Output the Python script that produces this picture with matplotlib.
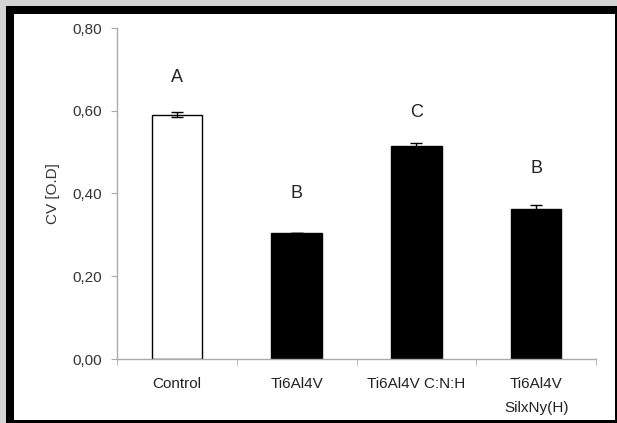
import numpy as np
import matplotlib.pyplot as plt
from matplotlib.patches import Rectangle

categories = ['Control', 'Ti6Al4V', 'Ti6Al4V C:N:H', 'Ti6Al4V\nSilxNy(H)']
means = [0.590, 0.305, 0.515, 0.362]
errors = [0.006, 0.0, 0.007, 0.011]
letters = ['A', 'B', 'C', 'B']
letter_y = [0.68, 0.40, 0.595, 0.46]
yticks = [0.0, 0.2, 0.4, 0.6, 0.8]
ytick_labels = ['0,00', '0,20', '0,40', '0,60', '0,80']

plt.rcParams['font.family'] = ['Liberation Sans', 'DejaVu Sans']
W, H = 617, 423
fig = plt.figure(figsize=(W / 100, H / 100), dpi=100)
fig.patch.set_facecolor('#d4d4d4')

# frame: thick black on left/top, thin on right/bottom
fig.patches.append(Rectangle((6 / W, 0), 1 - 6 / W, 1 - 6 / H, transform=fig.transFigure,
                             facecolor='black', edgecolor='none', zorder=-10))
fig.patches.append(Rectangle((14 / W, 3 / H), (615 - 14) / W, (420 - 14) / H,
                             transform=fig.transFigure, facecolor='white',
                             edgecolor='none', zorder=-9))

ax = fig.add_axes([117 / W, 1 - 359 / H, (596 - 117) / W, (359 - 28) / H])
ax.set_facecolor('none')

x = np.arange(len(categories))
colors = ['white', 'black', 'black', 'black']
ax.bar(x, means, width=0.42, color=colors, edgecolor='black', linewidth=1.0, zorder=2)
ax.errorbar(x, means, yerr=errors, fmt='none', ecolor='black', elinewidth=1.0,
            capsize=4, capthick=1.0, zorder=3)

for xi, lt, ly in zip(x, letters, letter_y):
    ax.text(xi, ly, lt, ha='center', va='center', fontsize=13, color='#222222')

ax.set_xlim(-0.5, 3.5)
ax.set_ylim(0, 0.8)
ax.set_yticks(yticks)
ax.set_yticklabels(ytick_labels, fontsize=11, color='#333333')
ax.set_xticks(x)
ax.set_xticklabels(categories, fontsize=11, color='#222222', linespacing=1.9)
ax.set_xticks(np.arange(-0.5, 3.6, 1.0), minor=True)
ax.tick_params(axis='x', which='major', length=0, pad=13)
ax.tick_params(axis='x', which='minor', length=4, color='#aaaaaa', direction='out')
ax.tick_params(axis='y', length=4, color='#aaaaaa', direction='out', pad=7)

for s in ['top', 'right']:
    ax.spines[s].set_visible(False)
for s in ['left', 'bottom']:
    ax.spines[s].set_color('#aaaaaa')
    ax.spines[s].set_linewidth(1.0)

ax.set_ylabel('CV [O.D]', fontsize=11, color='#333333')
ax.yaxis.set_label_coords(-0.12, 0.50)

fig.savefig('out.png', dpi=100, facecolor=fig.get_facecolor())
